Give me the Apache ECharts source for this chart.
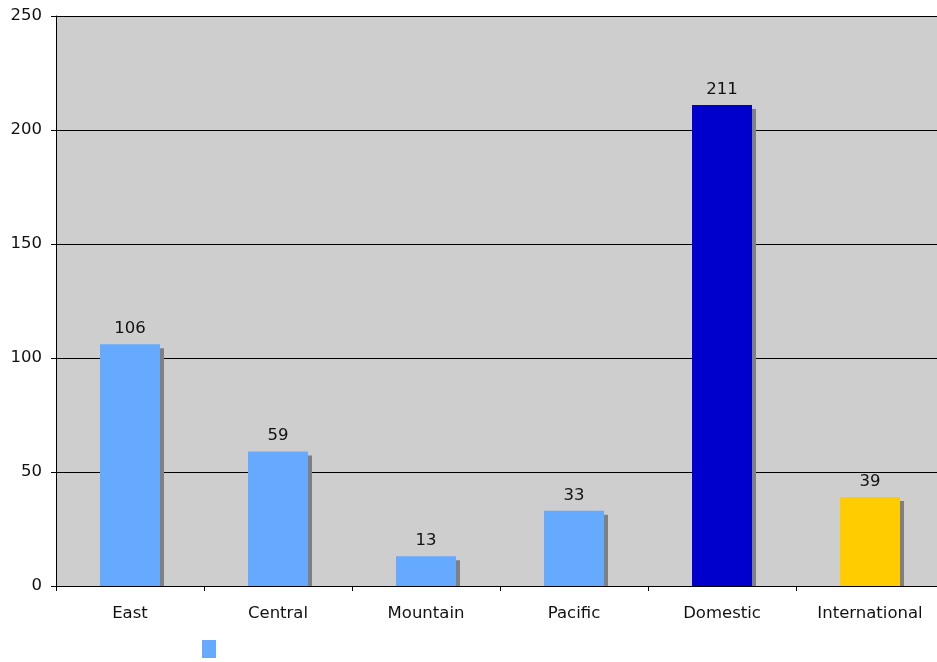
<!DOCTYPE html>
<html>
<head>
<meta charset="utf-8">
<script src="https://cdn.jsdelivr.net/npm/echarts@6/dist/echarts.min.js"></script>
<style>
html,body{margin:0;padding:0;background:#fff;}
#c{width:937px;height:662px;}
</style>
</head>
<body>
<div id="c"></div>
<script>
const categories = ['East', 'Central', 'Mountain', 'Pacific', 'Domestic', 'International'];
const values = [106, 59, 13, 33, 211, 39];
const barColors = ['#66aaff', '#66aaff', '#66aaff', '#66aaff', '#0000cc', '#ffcc00'];
const yTicks = [0, 50, 100, 150, 200, 250];

const FONT = 'DejaVu Sans';
const chart = echarts.init(document.getElementById('c'), null, {renderer: 'canvas'});

chart.setOption({
  animation: false,
  backgroundColor: '#ffffff',
  textStyle: {fontFamily: FONT},
  grid: {left: 56, top: 16, width: 888, height: 570, show: true, backgroundColor: '#cecece', borderWidth: 0,
         outerBoundsMode: 'none', containLabel: false},
  legend: {
    data: [' '],
    left: 197, top: 635,
    icon: 'rect', itemWidth: 14, itemHeight: 18,
    itemStyle: {shadowBlur: 0, shadowOffsetX: 0, shadowOffsetY: 0, shadowColor: 'transparent'},
    textStyle: {fontSize: 1}
  },
  xAxis: {
    type: 'category',
    data: categories,
    z: 60,
    axisLine: {lineStyle: {color: '#000', width: 1}},
    axisTick: {show: true, length: 5, lineStyle: {color: '#000'}},
    axisLabel: {color: '#111', fontSize: 16.5, fontFamily: FONT, margin: 19},
    splitLine: {show: false}
  },
  yAxis: {
    type: 'value',
    min: yTicks[0], max: yTicks[yTicks.length - 1], interval: 50,
    axisLine: {show: true, lineStyle: {color: '#000', width: 1}},
    axisTick: {show: true, length: 5, lineStyle: {color: '#000'}},
    axisLabel: {color: '#111', fontSize: 16.5, fontFamily: FONT, margin: 14},
    splitLine: {show: true, lineStyle: {color: '#000', width: 1}}
  },
  series: [{
    name: ' ',
    type: 'bar',
    barWidth: 60,
    itemStyle: {color: '#66aaff', shadowColor: '#808080', shadowOffsetX: 4, shadowOffsetY: 4, shadowBlur: 0},
    label: {show: true, position: 'top', distance: 7, color: '#111', fontSize: 16.5, fontFamily: FONT},
    data: values.map((v, i) => ({value: v, itemStyle: {color: barColors[i]}}))
  }]
});

// mask the bar shadows that would fall below the zero line
const p0 = chart.convertToPixel({xAxisIndex: 0, yAxisIndex: 0}, [0, 0]);
const gx = chart.getModel().getComponent('grid', 0).coordinateSystem.getRect().x;
chart.setOption({
  graphic: [{
    type: 'rect', z: 50, silent: true,
    shape: {x: gx + 1, y: Math.round(p0[1]) + 1, width: 937, height: 8},
    style: {fill: '#ffffff'}
  }]
});
</script>
</body>
</html>
